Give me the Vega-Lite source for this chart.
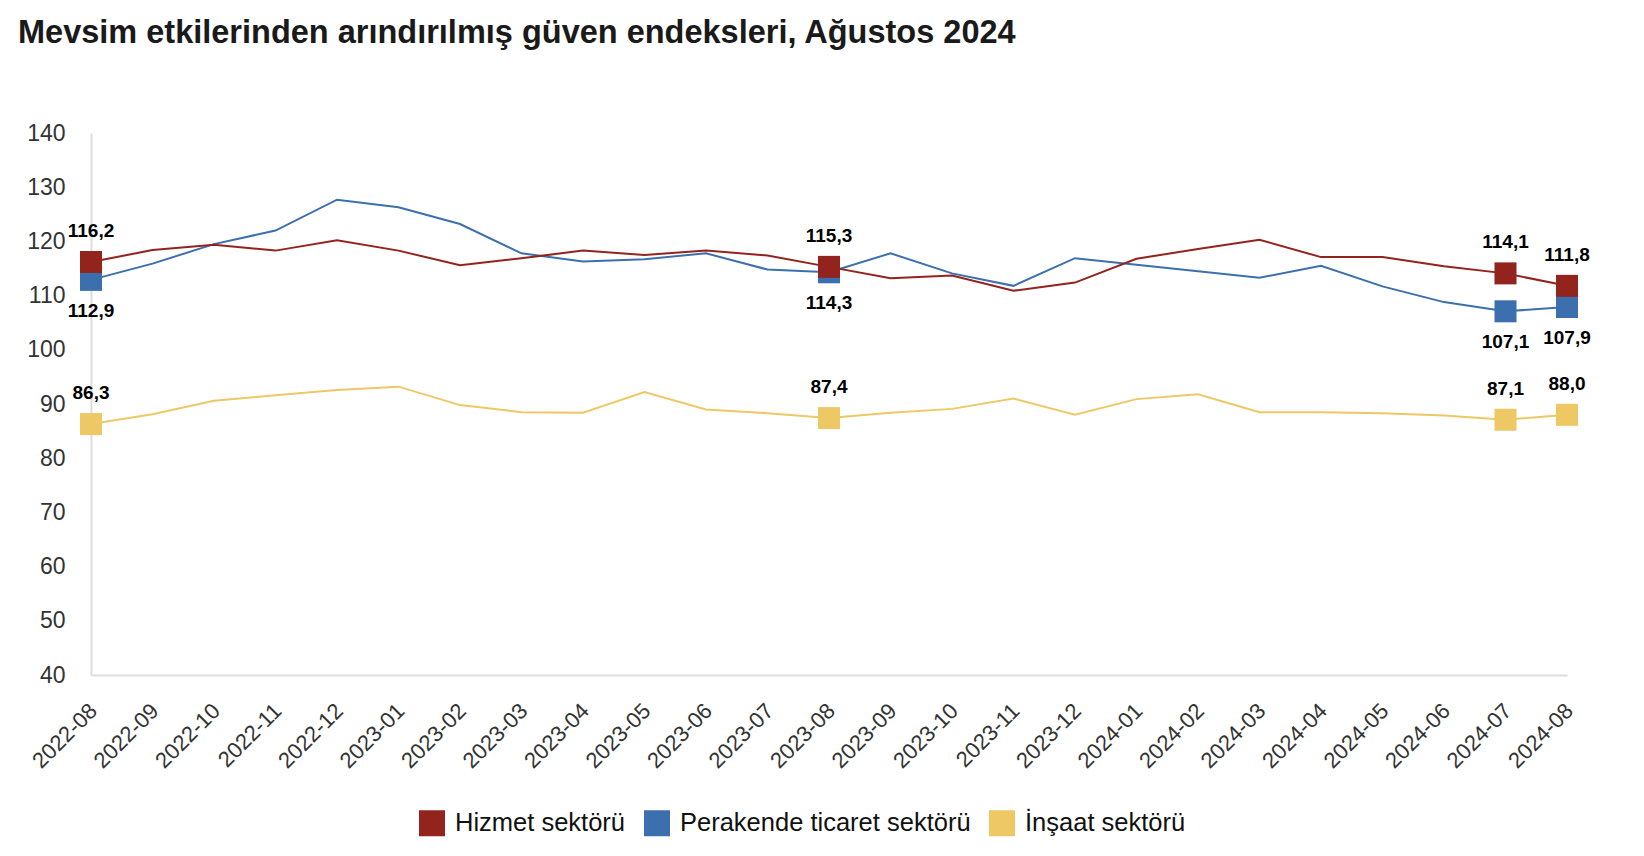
{
  "$schema": "https://vega.github.io/schema/vega-lite/v6.json",
  "width": 1476,
  "height": 542,
  "autosize": {"type": "none"},
  "padding": {"left": 91, "top": 133, "right": 77, "bottom": 181},
  "background": "white",
  "title": {
    "text": "Mevsim etkilerinden arındırılmış güven endeksleri, Ağustos 2024",
    "anchor": "start",
    "frame": "group",
    "dx": -73,
    "offset": 73,
    "font": "Liberation Sans",
    "fontSize": 32.5,
    "fontWeight": "bold",
    "color": "#1a1a1a"
  },
  "config": {
    "locale": {"number": {"decimal": ",", "thousands": ".", "grouping": [3], "currency": ["", " TL"]}},
    "view": {"stroke": null},
    "font": "Liberation Sans"
  },
  "data": {
    "values": [
      {"ay": "2022-08", "seri": "Perakende ticaret sektörü", "deger": 112.9},
      {"ay": "2022-09", "seri": "Perakende ticaret sektörü", "deger": 115.9},
      {"ay": "2022-10", "seri": "Perakende ticaret sektörü", "deger": 119.5},
      {"ay": "2022-11", "seri": "Perakende ticaret sektörü", "deger": 122.0},
      {"ay": "2022-12", "seri": "Perakende ticaret sektörü", "deger": 127.7},
      {"ay": "2023-01", "seri": "Perakende ticaret sektörü", "deger": 126.3},
      {"ay": "2023-02", "seri": "Perakende ticaret sektörü", "deger": 123.2},
      {"ay": "2023-03", "seri": "Perakende ticaret sektörü", "deger": 117.8},
      {"ay": "2023-04", "seri": "Perakende ticaret sektörü", "deger": 116.3},
      {"ay": "2023-05", "seri": "Perakende ticaret sektörü", "deger": 116.7},
      {"ay": "2023-06", "seri": "Perakende ticaret sektörü", "deger": 117.8},
      {"ay": "2023-07", "seri": "Perakende ticaret sektörü", "deger": 114.8},
      {"ay": "2023-08", "seri": "Perakende ticaret sektörü", "deger": 114.3},
      {"ay": "2023-09", "seri": "Perakende ticaret sektörü", "deger": 117.8},
      {"ay": "2023-10", "seri": "Perakende ticaret sektörü", "deger": 114.1},
      {"ay": "2023-11", "seri": "Perakende ticaret sektörü", "deger": 111.8},
      {"ay": "2023-12", "seri": "Perakende ticaret sektörü", "deger": 116.9},
      {"ay": "2024-01", "seri": "Perakende ticaret sektörü", "deger": 115.7},
      {"ay": "2024-02", "seri": "Perakende ticaret sektörü", "deger": 114.5},
      {"ay": "2024-03", "seri": "Perakende ticaret sektörü", "deger": 113.3},
      {"ay": "2024-04", "seri": "Perakende ticaret sektörü", "deger": 115.5},
      {"ay": "2024-05", "seri": "Perakende ticaret sektörü", "deger": 111.7},
      {"ay": "2024-06", "seri": "Perakende ticaret sektörü", "deger": 108.8},
      {"ay": "2024-07", "seri": "Perakende ticaret sektörü", "deger": 107.1},
      {"ay": "2024-08", "seri": "Perakende ticaret sektörü", "deger": 107.9},
      {"ay": "2022-08", "seri": "İnşaat sektörü", "deger": 86.3},
      {"ay": "2022-09", "seri": "İnşaat sektörü", "deger": 88.1},
      {"ay": "2022-10", "seri": "İnşaat sektörü", "deger": 90.6},
      {"ay": "2022-11", "seri": "İnşaat sektörü", "deger": 91.6},
      {"ay": "2022-12", "seri": "İnşaat sektörü", "deger": 92.6},
      {"ay": "2023-01", "seri": "İnşaat sektörü", "deger": 93.2},
      {"ay": "2023-02", "seri": "İnşaat sektörü", "deger": 89.8},
      {"ay": "2023-03", "seri": "İnşaat sektörü", "deger": 88.5},
      {"ay": "2023-04", "seri": "İnşaat sektörü", "deger": 88.4},
      {"ay": "2023-05", "seri": "İnşaat sektörü", "deger": 92.2},
      {"ay": "2023-06", "seri": "İnşaat sektörü", "deger": 89.0},
      {"ay": "2023-07", "seri": "İnşaat sektörü", "deger": 88.3},
      {"ay": "2023-08", "seri": "İnşaat sektörü", "deger": 87.4},
      {"ay": "2023-09", "seri": "İnşaat sektörü", "deger": 88.4},
      {"ay": "2023-10", "seri": "İnşaat sektörü", "deger": 89.1},
      {"ay": "2023-11", "seri": "İnşaat sektörü", "deger": 91.0},
      {"ay": "2023-12", "seri": "İnşaat sektörü", "deger": 88.0},
      {"ay": "2024-01", "seri": "İnşaat sektörü", "deger": 90.9},
      {"ay": "2024-02", "seri": "İnşaat sektörü", "deger": 91.8},
      {"ay": "2024-03", "seri": "İnşaat sektörü", "deger": 88.5},
      {"ay": "2024-04", "seri": "İnşaat sektörü", "deger": 88.5},
      {"ay": "2024-05", "seri": "İnşaat sektörü", "deger": 88.3},
      {"ay": "2024-06", "seri": "İnşaat sektörü", "deger": 87.9},
      {"ay": "2024-07", "seri": "İnşaat sektörü", "deger": 87.1},
      {"ay": "2024-08", "seri": "İnşaat sektörü", "deger": 88.0},
      {"ay": "2022-08", "seri": "Hizmet sektörü", "deger": 116.2},
      {"ay": "2022-09", "seri": "Hizmet sektörü", "deger": 118.4},
      {"ay": "2022-10", "seri": "Hizmet sektörü", "deger": 119.4},
      {"ay": "2022-11", "seri": "Hizmet sektörü", "deger": 118.3},
      {"ay": "2022-12", "seri": "Hizmet sektörü", "deger": 120.2},
      {"ay": "2023-01", "seri": "Hizmet sektörü", "deger": 118.3},
      {"ay": "2023-02", "seri": "Hizmet sektörü", "deger": 115.6},
      {"ay": "2023-03", "seri": "Hizmet sektörü", "deger": 116.9},
      {"ay": "2023-04", "seri": "Hizmet sektörü", "deger": 118.3},
      {"ay": "2023-05", "seri": "Hizmet sektörü", "deger": 117.5},
      {"ay": "2023-06", "seri": "Hizmet sektörü", "deger": 118.3},
      {"ay": "2023-07", "seri": "Hizmet sektörü", "deger": 117.4},
      {"ay": "2023-08", "seri": "Hizmet sektörü", "deger": 115.3},
      {"ay": "2023-09", "seri": "Hizmet sektörü", "deger": 113.2},
      {"ay": "2023-10", "seri": "Hizmet sektörü", "deger": 113.7},
      {"ay": "2023-11", "seri": "Hizmet sektörü", "deger": 110.9},
      {"ay": "2023-12", "seri": "Hizmet sektörü", "deger": 112.4},
      {"ay": "2024-01", "seri": "Hizmet sektörü", "deger": 116.8},
      {"ay": "2024-02", "seri": "Hizmet sektörü", "deger": 118.6},
      {"ay": "2024-03", "seri": "Hizmet sektörü", "deger": 120.3},
      {"ay": "2024-04", "seri": "Hizmet sektörü", "deger": 117.1},
      {"ay": "2024-05", "seri": "Hizmet sektörü", "deger": 117.1},
      {"ay": "2024-06", "seri": "Hizmet sektörü", "deger": 115.4},
      {"ay": "2024-07", "seri": "Hizmet sektörü", "deger": 114.1},
      {"ay": "2024-08", "seri": "Hizmet sektörü", "deger": 111.8}
    ]
  },
  "encoding": {
    "x": {
      "field": "ay",
      "type": "ordinal",
      "sort": null,
      "scale": {"type": "point", "padding": 0},
      "axis": {
        "title": null,
        "labelAngle": -45,
        "labelAlign": "right",
        "labelBaseline": "middle",
        "labelPadding": 32,
        "labelOffset": 2,
        "labelFont": "Liberation Sans",
        "labelFontSize": 22,
        "labelColor": "#333333",
        "ticks": false,
        "domainColor": "#dddddd",
        "domainWidth": 2,
        "grid": false
      }
    },
    "y": {
      "field": "deger",
      "type": "quantitative",
      "scale": {"domain": [40, 140], "nice": false, "zero": false},
      "axis": {
        "title": null,
        "values": [40, 50, 60, 70, 80, 90, 100, 110, 120, 130, 140],
        "format": "d",
        "labelFont": "Liberation Sans",
        "labelFontSize": 23,
        "labelColor": "#333333",
        "labelPadding": 26,
        "ticks": false,
        "domainColor": "#dddddd",
        "domainWidth": 2,
        "grid": false
      }
    },
    "color": {
      "field": "seri",
      "type": "nominal",
      "scale": {
        "domain": ["Hizmet sektörü", "Perakende ticaret sektörü", "İnşaat sektörü"],
        "range": ["#93231d", "#3b6fad", "#eec864"]
      },
      "legend": {
        "title": null,
        "orient": "none",
        "legendX": 328,
        "legendY": 677,
        "direction": "horizontal",
        "symbolType": "square",
        "symbolSize": 676,
        "symbolStrokeWidth": 0,
        "symbolOpacity": 1,
        "labelFont": "Liberation Sans",
        "labelFontSize": 25.5,
        "labelColor": "#111111",
        "labelLimit": 400,
        "labelOffset": 10,
        "columnPadding": 18
      }
    }
  },
  "layer": [
    {
      "mark": {"type": "line", "strokeWidth": 2}
    },
    {
      "transform": [{"filter": {"field": "ay", "oneOf": ["2022-08", "2023-08", "2024-07", "2024-08"]}}],
      "mark": {"type": "point", "shape": "square", "filled": true, "opacity": 1, "size": 484}
    },
    {
      "transform": [
        {"filter": {"field": "ay", "oneOf": ["2022-08", "2023-08", "2024-07", "2024-08"]}},
        {"filter": {"field": "seri", "oneOf": ["Hizmet sektörü", "İnşaat sektörü"]}}
      ],
      "mark": {"type": "text", "dy": -31, "font": "Liberation Sans", "fontSize": 19, "fontWeight": "bold", "color": "#000000"},
      "encoding": {
        "text": {"field": "deger", "type": "quantitative", "format": ".1f"},
        "color": {"value": "#000000"}
      }
    },
    {
      "transform": [
        {"filter": {"field": "ay", "oneOf": ["2022-08", "2023-08", "2024-07", "2024-08"]}},
        {"filter": {"field": "seri", "equal": "Perakende ticaret sektörü"}}
      ],
      "mark": {"type": "text", "dy": 31, "font": "Liberation Sans", "fontSize": 19, "fontWeight": "bold", "color": "#000000"},
      "encoding": {
        "text": {"field": "deger", "type": "quantitative", "format": ".1f"},
        "color": {"value": "#000000"}
      }
    }
  ]
}
